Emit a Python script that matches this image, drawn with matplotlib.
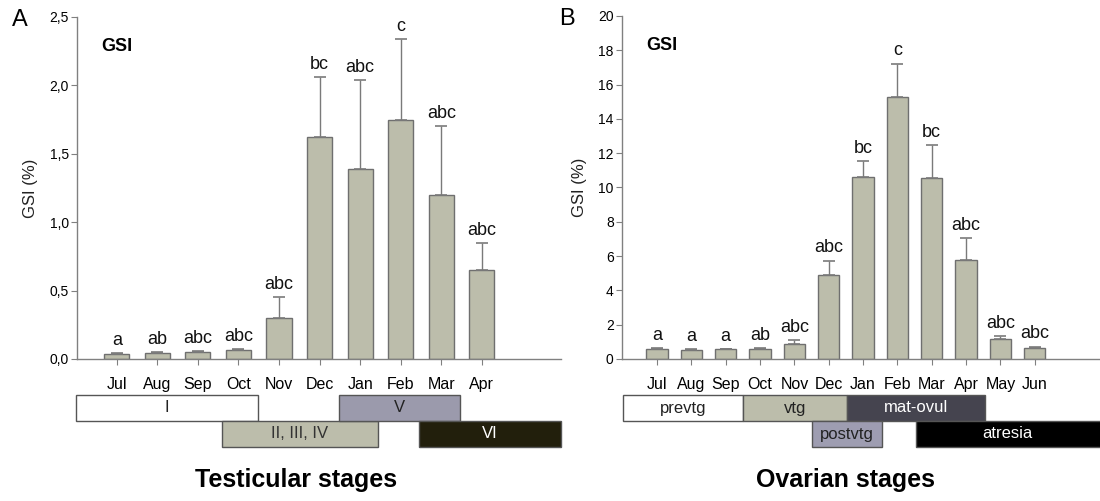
import matplotlib
matplotlib.use("Agg")
import matplotlib.pyplot as plt
from matplotlib.patches import Rectangle
from matplotlib.transforms import blended_transform_factory
import numpy as np

plt.rcParams['font.family'] = ['Liberation Sans', 'DejaVu Sans']

# ---- Panel A: testis ----
months_a = ["Jul", "Aug", "Sep", "Oct", "Nov", "Dec", "Jan", "Feb", "Mar", "Apr"]
gsi_a = [0.04, 0.045, 0.05, 0.063, 0.30, 1.625, 1.39, 1.75, 1.20, 0.65]
err_a = [0.005, 0.005, 0.005, 0.012, 0.155, 0.435, 0.65, 0.59, 0.50, 0.20]
letters_a = ["a", "ab", "abc", "abc", "abc", "bc", "abc", "c", "abc", "abc"]
yticks_a = [0.0, 0.5, 1.0, 1.5, 2.0, 2.5]
stages_a = ["I", "II, III, IV", "V", "VI"]
stage_start_a = [-1.0, 2.6, 5.47, 7.45]
stage_end_a = [3.47, 6.43, 8.47, 10.95]
stage_row_a = [0, 1, 0, 1]
stage_color_a = ["#ffffff", "#bcbdab", "#9b9aac", "#221f0c"]
stage_text_a = ["#222222", "#333333", "#222222", "#ffffff"]

# ---- Panel B: ovary ----
months_b = ["Jul", "Aug", "Sep", "Oct", "Nov", "Dec", "Jan", "Feb", "Mar", "Apr", "May", "Jun"]
gsi_b = [0.58, 0.52, 0.56, 0.60, 0.86, 4.88, 10.6, 15.28, 10.53, 5.77, 1.15, 0.66]
err_b = [0.04, 0.04, 0.02, 0.02, 0.23, 0.85, 0.95, 1.95, 1.95, 1.27, 0.17, 0.06]
letters_b = ["a", "a", "a", "ab", "abc", "abc", "bc", "c", "bc", "abc", "abc", "abc"]
yticks_b = [0, 2, 4, 6, 8, 10, 12, 14, 16, 18, 20]
stages_b = ["prevtg", "vtg", "mat-ovul", "postvtg", "atresia"]
stage_start_b = [-1.0, 2.5, 5.52, 4.5, 7.53]
stage_end_b = [2.5, 5.52, 9.56, 6.55, 13.5]
stage_row_b = [0, 0, 0, 1, 1]
stage_color_b = ["#ffffff", "#bcbdab", "#45444f", "#9e9db1", "#000000"]
stage_text_b = ["#222222", "#222222", "#ffffff", "#222222", "#ffffff"]

W, H = 1100, 501
fig = plt.figure(figsize=(W / 100, H / 100), dpi=100)

def fy(py):
    return 1 - py / H

bar_face = "#bcbdab"
bar_edge = "#6f6f6f"
axis_col = "#808080"

def panel(rect, months, vals, errs, letters, yticks, ylim, xlim, fmt,
          stages, s0, s1, srow, scol, stxt, letter_off):
    ax = fig.add_axes(rect)
    x = np.arange(len(months))
    ax.bar(x, vals, width=0.62, color=bar_face, edgecolor=bar_edge, linewidth=1.0, zorder=2)
    ax.errorbar(x, vals, yerr=[np.zeros(len(vals)), errs], fmt="none", ecolor="#7a7a7a",
                elinewidth=1.0, capsize=4, capthick=1.2, zorder=3)
    for xi, v, e, l in zip(x, vals, errs, letters):
        ax.text(xi, v + e + letter_off, l, ha="center", va="bottom", fontsize=13, color="#111111")
    ax.set_xlim(*xlim)
    ax.set_ylim(*ylim)
    ax.set_yticks(yticks)
    ax.set_yticklabels([fmt(t) for t in yticks], fontsize=10)
    ax.set_xticks(x)
    ax.set_xticklabels(months, fontsize=11.5)
    for s in ["top", "right"]:
        ax.spines[s].set_visible(False)
    for s in ["left", "bottom"]:
        ax.spines[s].set_color(axis_col)
        ax.spines[s].set_linewidth(1.0)
    ax.tick_params(axis="y", direction="out", length=4, color=axis_col, pad=2)
    ax.tick_params(axis="x", direction="inout", length=8, color=axis_col, pad=9)
    ax.set_ylabel("GSI (%)", fontsize=12, color="#222222", labelpad=8)
    ax.text(0.05, 0.915, "GSI", transform=ax.transAxes, fontsize=13, fontweight="bold",
            ha="left", va="center")
    tr = blended_transform_factory(ax.transData, fig.transFigure)
    rows = [(fy(421), fy(395)), (fy(447), fy(421))]
    for name, a, b, r, c, tc in zip(stages, s0, s1, srow, scol, stxt):
        y0, y1 = rows[r]
        rect_p = Rectangle((a, y0), b - a, y1 - y0, transform=tr, facecolor=c,
                           edgecolor="#555555", linewidth=1.0, clip_on=False)
        fig.add_artist(rect_p)
        fig.text((a + min(b, xlim[1])) / 2, (y0 + y1) / 2, name, transform=tr,
                 ha="center", va="center", fontsize=12, color=tc)
    return ax

axA = panel([77 / W, fy(359), (561 - 77) / W, (359 - 17) / H], months_a, gsi_a, err_a,
            letters_a, yticks_a, (0, 2.5), (-0.98, 10.95),
            lambda t: f"{t:.1f}".replace(".", ","),
            stages_a, stage_start_a, stage_end_a, stage_row_a, stage_color_a, stage_text_a, 0.03)
axB = panel([622 / W, fy(359), (1100 - 622) / W, (359 - 16) / H], months_b, gsi_b, err_b,
            letters_b, yticks_b, (0, 20), (-1.02, 12.9),
            lambda t: f"{t:d}",
            stages_b, stage_start_b, stage_end_b, stage_row_b, stage_color_b, stage_text_b, 0.25)

fig.text(20 / W, fy(20), "A", fontsize=17, ha="center", va="center")
fig.text(567 / W, fy(19), "B", fontsize=17, ha="center", va="center")
fig.text(296 / W, fy(480), "Testicular stages", fontsize=18, fontweight="bold", ha="center", va="center")
fig.text(846 / W, fy(480), "Ovarian stages", fontsize=18, fontweight="bold", ha="center", va="center")

fig.savefig("out.png", dpi=100)
